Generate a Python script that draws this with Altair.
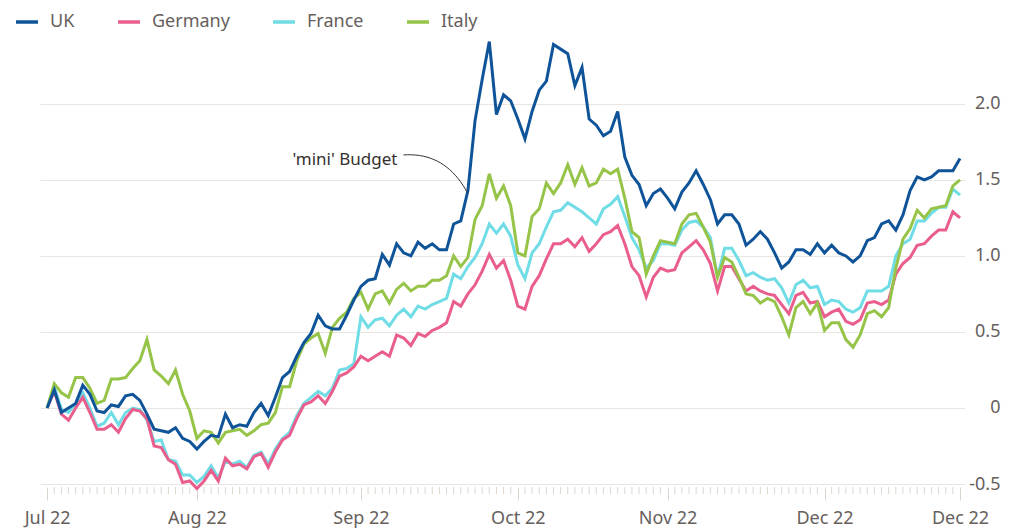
import altair as alt
import pandas as pd

# ---- data ----
countries = ["UK", "Germany", "France", "Italy"]
colors = ["#0f5499", "#e95e8c", "#70dce5", "#96c448"]

uk = [0, 0.12, -0.03, 0.0, 0.03, 0.15, 0.09, -0.02, -0.03, 0.02,
      0.01, 0.08, 0.09, 0.05, -0.04, -0.14, -0.15, -0.16, -0.13, -0.2,
      -0.22, -0.27, -0.22, -0.18, -0.19, -0.04, -0.13, -0.11, -0.12, -0.03,
      0.03, -0.05, 0.07, 0.2, 0.24, 0.34, 0.43, 0.49, 0.61, 0.54,
      0.52, 0.52, 0.61, 0.71, 0.8, 0.84, 0.85, 1.01, 0.94, 1.08,
      1.02, 1.0, 1.09, 1.05, 1.08, 1.04, 1.04, 1.21, 1.23, 1.43,
      1.89, 2.16, 2.41, 1.93, 2.06, 2.02, 1.9, 1.77, 1.95, 2.09,
      2.15, 2.39, 2.36, 2.33, 2.12, 2.24, 1.9, 1.86, 1.79, 1.82,
      1.95, 1.65, 1.53, 1.47, 1.33, 1.41, 1.44, 1.38, 1.31, 1.42,
      1.48, 1.56, 1.47, 1.37, 1.21, 1.27, 1.27, 1.21, 1.07, 1.11,
      1.16, 1.11, 1.02, 0.92, 0.96, 1.04, 1.04, 1.01, 1.08, 1.02,
      1.07, 1.02, 1.0, 0.96, 1.0, 1.1, 1.12, 1.21, 1.23, 1.17,
      1.27, 1.43, 1.52, 1.5, 1.52, 1.56, 1.56, 1.56, 1.64]

italy = [0, 0.16, 0.10, 0.07, 0.2, 0.2, 0.13, 0.03, 0.05, 0.19,
         0.19, 0.2, 0.26, 0.31, 0.45, 0.25, 0.21, 0.16, 0.25, 0.09,
         -0.02, -0.2, -0.15, -0.16, -0.23, -0.16, -0.15, -0.14, -0.18, -0.15,
         -0.11, -0.1, -0.03, 0.14, 0.14, 0.31, 0.42, 0.46, 0.49, 0.36,
         0.53, 0.59, 0.63, 0.72, 0.76, 0.65, 0.75, 0.77, 0.69, 0.78,
         0.82, 0.77, 0.8, 0.8, 0.84, 0.84, 0.87, 1.0, 0.93, 0.99,
         1.24, 1.33, 1.54, 1.38, 1.46, 1.33, 1.02, 1.0, 1.26, 1.31,
         1.48, 1.41, 1.48, 1.6, 1.47, 1.58, 1.46, 1.48, 1.57, 1.54,
         1.57, 1.38, 1.16, 1.12, 0.88, 1.0, 1.1, 1.09, 1.08, 1.21,
         1.27, 1.28, 1.19, 1.09, 0.86, 0.99, 0.96, 0.86, 0.75, 0.74,
         0.69, 0.72, 0.7, 0.6, 0.48, 0.66, 0.7, 0.62, 0.69, 0.51,
         0.56, 0.56, 0.45, 0.4, 0.48, 0.62, 0.64, 0.6, 0.66, 0.92,
         1.11, 1.18, 1.3, 1.25, 1.31, 1.32, 1.33, 1.46, 1.5]

germany = [0, 0.11, -0.04, -0.08, 0, 0.07, -0.03, -0.14, -0.14, -0.11,
           -0.16, -0.07, -0.01, -0.02, -0.07, -0.25, -0.26, -0.34, -0.37, -0.49,
           -0.48, -0.53, -0.48, -0.41, -0.48, -0.33, -0.38, -0.37, -0.4, -0.32,
           -0.3, -0.39, -0.29, -0.21, -0.18, -0.07, 0.02, 0.04, 0.08, 0.03,
           0.11, 0.21, 0.23, 0.27, 0.34, 0.31, 0.34, 0.37, 0.34, 0.48,
           0.46, 0.41, 0.49, 0.47, 0.51, 0.53, 0.56, 0.7, 0.67, 0.75,
           0.81, 0.9, 1.01, 0.92, 0.97, 0.84, 0.67, 0.65, 0.8, 0.87,
           0.98, 1.08, 1.08, 1.11, 1.06, 1.12, 1.03, 1.08, 1.14, 1.16,
           1.2, 1.08, 0.93, 0.87, 0.73, 0.86, 0.92, 0.9, 0.91, 1.02,
           1.06, 1.1, 1.04, 0.95, 0.77, 0.93, 0.93, 0.85, 0.77, 0.8,
           0.77, 0.75, 0.74, 0.68, 0.62, 0.74, 0.76, 0.69, 0.7, 0.6,
           0.63, 0.65, 0.57, 0.55, 0.58, 0.69, 0.7, 0.68, 0.71, 0.88,
           0.95, 0.99, 1.07, 1.08, 1.13, 1.17, 1.17, 1.29, 1.25]

france = [0, 0.14, -0.01, -0.03, 0.03, 0.1, 0, -0.12, -0.1, -0.03,
          -0.11, -0.03, 0, -0.01, -0.08, -0.22, -0.21, -0.34, -0.35, -0.44,
          -0.44, -0.49, -0.45, -0.38, -0.46, -0.35, -0.37, -0.35, -0.39, -0.31,
          -0.29, -0.37, -0.27, -0.2, -0.16, -0.05, 0.03, 0.07, 0.11, 0.08,
          0.13, 0.25, 0.26, 0.29, 0.6, 0.53, 0.58, 0.59, 0.54, 0.61,
          0.65, 0.6, 0.67, 0.65, 0.68, 0.7, 0.72, 0.88, 0.85, 0.93,
          0.99, 1.08, 1.21, 1.15, 1.21, 1.13, 0.94, 0.85, 1.02, 1.08,
          1.19, 1.29, 1.3, 1.35, 1.32, 1.29, 1.25, 1.21, 1.31, 1.34,
          1.39, 1.26, 1.12, 1.04, 0.92, 0.97, 1.08, 1.08, 1.07, 1.17,
          1.22, 1.23, 1.19, 1.12, 0.86, 1.05, 1.05, 0.97, 0.87, 0.89,
          0.86, 0.84, 0.85, 0.79, 0.69, 0.81, 0.84, 0.79, 0.8, 0.68,
          0.71, 0.7, 0.65, 0.63, 0.66, 0.77, 0.77, 0.77, 0.8, 1.0,
          1.08, 1.11, 1.23, 1.23, 1.28, 1.32, 1.32, 1.44, 1.4]

# business-day index of each month start, and the axis labels
tick_idx = [0, 21, 44, 66, 87, 109, 128]
tick_labels = ["Jul 22", "Aug 22", "Sep 22", "Oct 22", "Nov 22", "Dec 22", "Dec 22"]
y_ticks = [-0.5, 0, 0.5, 1.0, 1.5, 2.0]

# annotation: text anchor and connector anchor points (data units)
note_text = "'mini' Budget"
note_pos = (34.4, 1.60)
curve_pts = [(49.96, 1.664), (55.86, 1.684), (58.95, 1.414)]

# ---- build tables ----
rows = []
for name, vals in [("France", france), ("Germany", germany), ("Italy", italy), ("UK", uk)]:
    for i, v in enumerate(vals):
        rows.append({"day": i, "value": v, "country": name})
df = pd.DataFrame(rows)

n_days = len(uk)
minor_df = pd.DataFrame({"day": [i for i in range(n_days) if i not in tick_idx]})

p0, c, p2 = curve_pts
curve = []
for k in range(21):
    t = k / 20
    curve.append({
        "day": (1 - t) ** 2 * p0[0] + 2 * (1 - t) * t * c[0] + t ** 2 * p2[0],
        "value": (1 - t) ** 2 * p0[1] + 2 * (1 - t) * t * c[1] + t ** 2 * p2[1],
        "k": k,
    })
curve_df = pd.DataFrame(curve)
note_df = pd.DataFrame([{"day": note_pos[0], "value": note_pos[1], "text": note_text}])

FONT = "Noto Sans"
GREY = "#66605c"
TICK = "#ddd6cf"
W, H = 925, 444

xscale = alt.Scale(domain=[-1, n_days - 1 + 0.7], nice=False, zero=False)
yscale = alt.Scale(domain=[-0.5, 2.42], nice=False, zero=False)

idx_list = "[" + ",".join(str(v) for v in tick_idx) + "]"
lab_list = "[" + ",".join("'" + s + "'" for s in tick_labels) + "]"
x_label_expr = f"{lab_list}[indexof({idx_list}, datum.value)]"

y_label_expr = ("datum.value == 0 ? '0' : (datum.value < 0 ? '-' + format(-datum.value, '.1f') "
                ": format(datum.value, '.1f'))")

x_axis = alt.Axis(
    values=tick_idx,
    labelExpr=x_label_expr,
    tickSize=13,
    tickColor=TICK,
    tickWidth=1,
    domain=False,
    grid=False,
    offset=3,
    labelPadding=9,
    labelFontSize=18,
    labelColor=GREY,
    labelFont=FONT,
    labelOverlap=False,
    labelFlush=False,
    labelBound=False,
    labelAngle=0,
    title=None,
)

y_axis = alt.Axis(
    orient="right",
    values=y_ticks,
    labelExpr=y_label_expr,
    ticks=False,
    domain=False,
    grid=True,
    gridColor="#ebe5df",
    gridWidth=1,
    labelAlign="right",
    labelBaseline="middle",
    labelPadding=35,
    labelFontSize=18,
    labelColor=GREY,
    labelFont=FONT,
    title=None,
)

X = alt.X("day:Q", scale=xscale, axis=x_axis)
Y = alt.Y("value:Q", scale=yscale, axis=y_axis)

lines = alt.Chart(df).mark_line(strokeWidth=3).encode(
    x=X,
    y=Y,
    color=alt.Color(
        "country:N",
        scale=alt.Scale(domain=countries, range=colors),
        legend=alt.Legend(
            title=None,
            orient="none",
            direction="horizontal",
            legendX=-26,
            legendY=-31,
            symbolType="stroke",
            symbolSize=484,
            symbolStrokeWidth=3.5,
            labelFontSize=18,
            labelColor=GREY,
            labelFont=FONT,
            labelOffset=10,
            columnPadding=36,
            padding=0,
        ),
    ),
)

minor_ticks = alt.Chart(minor_df).mark_rule(color=TICK, strokeWidth=1).encode(
    x=X,
    y=alt.value(H + 3),
    y2=alt.value(H + 10),
)

connector = alt.Chart(curve_df).mark_line(color="#33302e", strokeWidth=1).encode(
    x=X,
    y=Y,
    order="k:Q",
)

note = alt.Chart(note_df).mark_text(
    align="left", baseline="alphabetic", fontSize=17, color="#33302e", font=FONT
).encode(
    x=X,
    y=Y,
    text="text:N",
)

chart = alt.layer(lines, minor_ticks, connector, note).properties(
    width=W,
    height=H,
    autosize=alt.AutoSizeParams(type="none"),
    padding={"left": 32, "top": 32, "right": 36, "bottom": 46},
    background="white",
).configure(font=FONT).configure_view(stroke=None)

chart.save("out.html", embed_options={"renderer": "svg", "actions": False})
